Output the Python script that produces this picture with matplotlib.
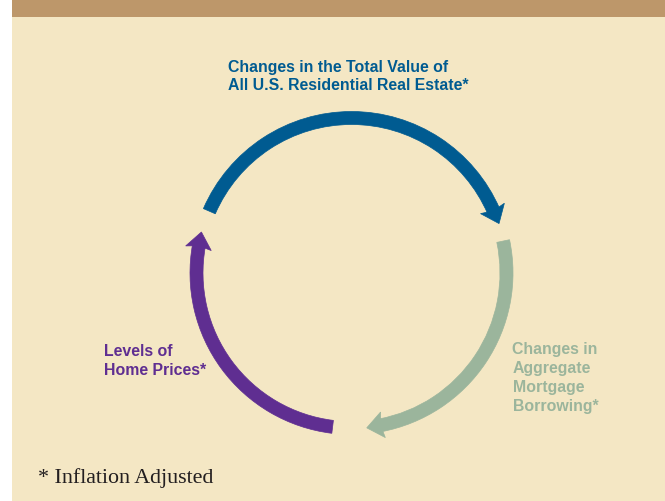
import numpy as np
import matplotlib
matplotlib.use("Agg")
import matplotlib.pyplot as plt
from matplotlib.patches import Wedge, Polygon, Rectangle

# ---- data ----
arc_names = ["Total Value", "Mortgage Borrowing", "Home Prices"]
arc_colors = ["#005B91", "#9BB59C", "#5F2E91"]
arc_start_deg = [156.5, 11.9, -97.0]      # where each arc body starts
arc_end_deg = [23.5, -79.4, -190.3]       # where each arc body ends (arrowhead base)

label_lines = [
    ["Changes in the Total Value of", "All U.S. Residential Real Estate*"],
    ["Changes in", "Aggregate", "Mortgage", "Borrowing*"],
    ["Levels of", "Home Prices*"],
]
footnote = "* Inflation Adjusted"

# ---- layout ----
W, H = 665, 502
fig = plt.figure(figsize=(W / 100, H / 100), dpi=100)
fig.patch.set_facecolor("white")
ax = fig.add_axes([0, 0, 1, 1])
ax.set_xlim(0, W)
ax.set_ylim(0, H)
ax.axis("off")

def Y(y):
    return H - y

BG = "#F4E7C4"
BAND = "#BD976A"
ax.add_patch(Rectangle((12, 0), W - 12, H, color=BG, lw=0, zorder=0))
ax.add_patch(Rectangle((12, Y(17.5)), W - 12, 17.5, color=BAND, lw=0, zorder=1))

cx, cy = 351.5, Y(274)
r = 155.0
w = 13.0
head_len = 14.0
head_w = 26.0

for col, a0, a1 in zip(arc_colors, arc_start_deg, arc_end_deg):
    ax.add_patch(Wedge((cx, cy), r + w / 2, min(a0, a1), max(a0, a1), width=w,
                       facecolor=col, edgecolor=col, lw=0.5, zorder=3))
    th = np.radians(a1)
    n = np.array([np.cos(th), np.sin(th)])
    t = np.array([np.sin(th), -np.cos(th)])  # clockwise tangent
    p = np.array([cx, cy]) + r * n - 0.5 * t
    tip = p + head_len * t
    b1 = p + head_w / 2 * n - 2.5 * t
    b2 = p - head_w / 2 * n - 2.5 * t
    ax.add_patch(Polygon([b1, tip, b2, p], closed=True, facecolor=col,
                         edgecolor=col, lw=0.5, zorder=4))

fs = 11.4
font = dict(family="Liberation Sans", weight="bold", fontsize=fs)
# title (blue)
for i, line in enumerate(label_lines[0]):
    ax.text(227.5, Y(71.7 + i * 18.0), line, color=arc_colors[0], va="baseline",
            ha="left", **font)
# right (green)
for i, line in enumerate(label_lines[1]):
    ax.text(512.5, Y(354.0 + i * 19.0), line, color=arc_colors[1], va="baseline",
            ha="left", **font)
# left (purple)
for i, line in enumerate(label_lines[2]):
    ax.text(104.3, Y(355.7 + i * 19.5), line, color=arc_colors[2], va="baseline",
            ha="left", **font)

ax.text(38, Y(482.7), footnote, color="#231F20", family="Liberation Serif",
        fontsize=15.8, va="baseline", ha="left")

fig.savefig("out.png", dpi=100, facecolor=fig.get_facecolor())
